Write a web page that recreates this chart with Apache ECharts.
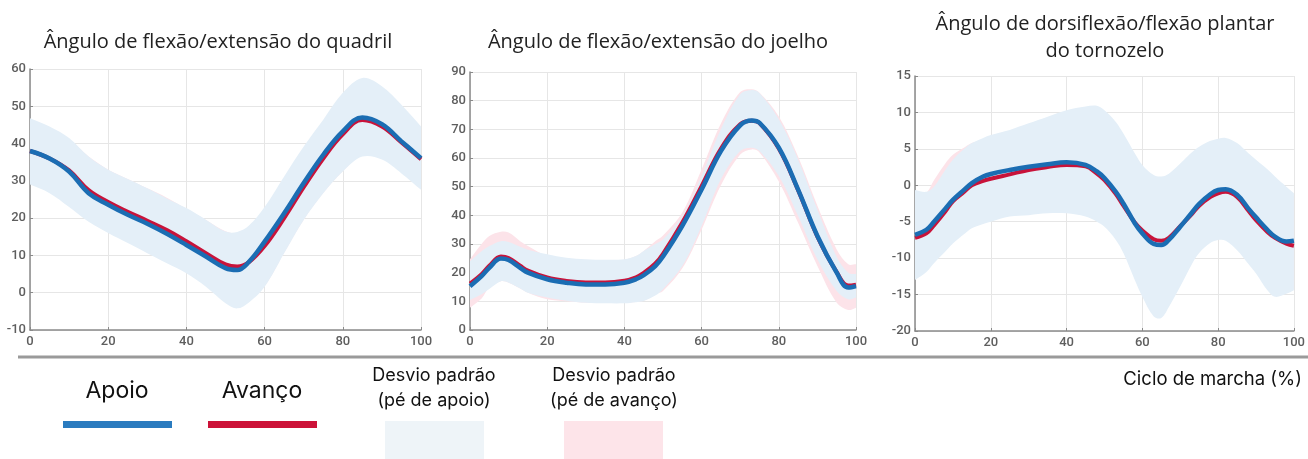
<!DOCTYPE html>
<html>
<head>
<meta charset="utf-8">
<script src="https://cdn.jsdelivr.net/npm/echarts@6/dist/echarts.min.js"></script>
<style>
  html, body { margin: 0; padding: 0; background: #fff; }
  #chart { width: 1308px; height: 459px; }
</style>
</head>
<body>
<div id="chart"></div>
<script>
// ---- dados (ciclo de marcha em %) ----

// quadril
const hipX = [0, 5, 10, 15, 20, 25, 30, 35, 40, 45, 50, 53, 56, 60, 65, 70, 75, 80, 85, 90, 95, 100];
const hipApoio = [38, 36, 32.5, 26.7, 23.6, 20.9, 18.5, 15.8, 12.8, 9.7, 6.6, 6.1, 8.3, 13.7, 21.3, 29.4, 37, 43.3, 47, 45.2, 40.6, 36.1];
const hipAvanco = [38, 36, 32.8, 27.5, 24.3, 21.7, 19.3, 16.8, 13.8, 10.6, 7.6, 7.0, 8.2, 12.5, 20, 28.3, 36, 42.5, 46.3, 44.6, 40.3, 35.8];
const hipApoioSup = [46.8, 44.6, 41.5, 36.5, 33, 30.5, 28, 25.3, 22.7, 19.6, 16.4, 16.3, 18, 23, 31.2, 39.2, 46.4, 53.6, 57.6, 55.4, 50.4, 44.6];
const hipApoioInf = [29, 26.7, 23, 19, 16, 13.3, 10.6, 7.9, 5.2, 1.6, -2.8, -4.2, -2.6, 1.6, 10.6, 19.5, 26.7, 32.5, 36.5, 35.7, 32, 27.6];
const hipAvancoSup = [46, 44, 41, 36.5, 33, 30.5, 28, 25.5, 22.5, 19.5, 16.5, 16, 17.5, 22, 30, 38, 45.5, 52.5, 56.5, 54.5, 49.5, 44];
const hipAvancoInf = [30, 28, 24.5, 20, 17, 14.3, 11.6, 9, 6, 2.5, -1.5, -2.8, -1.8, 1.8, 10.8, 19.6, 26.8, 32.6, 36.8, 36, 32.5, 28];

// joelho
const kneeX = [0, 3, 5, 8, 10, 13, 15, 20, 25, 30, 35, 40, 43, 45, 48, 50, 55, 60, 65, 70, 73, 75, 80, 85, 90, 95, 98, 100];
const kneeApoio = [15.3, 18.8, 21.7, 24.9, 24.4, 21.7, 20, 17.7, 16.5, 15.9, 15.9, 16.5, 17.7, 19.1, 22.3, 25.6, 36.3, 49, 62.4, 71.4, 73.1, 72.3, 63.6, 49, 32.8, 20, 14.8, 15.3];
const kneeAvanco = [16.2, 19.5, 22.4, 25.6, 25.1, 22.4, 20.7, 18.3, 17.1, 16.6, 16.6, 17.2, 18.4, 19.9, 23.2, 26.6, 37.5, 50.2, 63.2, 71.8, 73, 72.2, 63.3, 48.8, 32.6, 20.2, 15.5, 15.8];
const kneeApoioSup = [24, 27.5, 29.3, 31, 30.7, 29, 28, 26.4, 25.2, 24.7, 24.5, 24.7, 25.8, 27.6, 30, 31.6, 39.8, 53.7, 70, 82.2, 83.7, 82.7, 73.5, 59.5, 42, 25.5, 20, 19.5];
const kneeApoioInf = [10.5, 12.5, 14.3, 17, 16.5, 14.5, 13, 11.3, 10.2, 9.5, 9.3, 9.3, 9.7, 10.1, 12, 14.2, 22.3, 36.3, 52.6, 62.4, 63.6, 62.4, 53.7, 39.8, 24.7, 13.6, 10.7, 11.3];
const kneeAvancoSup = [24.7, 30, 32.8, 34.3, 34, 31, 29.3, 25.8, 24.5, 24, 24, 24.5, 25.8, 27.6, 31, 33, 41, 56, 72, 83, 84, 82.8, 74.5, 60.5, 43.3, 28.1, 22.9, 22.9];
const kneeAvancoInf = [7.8, 11, 14.8, 17, 16.5, 14.5, 13, 10.7, 10, 9.5, 9.5, 9.5, 9.8, 10.2, 12.5, 13.6, 21.5, 35, 50.5, 61.2, 63, 61.9, 51.8, 37.4, 22.3, 9.5, 7, 7.8];

// tornozelo
const ankleX = [0, 3, 5, 8, 10, 13, 15, 18, 20, 25, 30, 35, 40, 45, 48, 50, 53, 55, 58, 60, 63, 65, 67, 70, 73, 75, 78, 80, 82, 85, 88, 90, 93, 95, 98, 100];
const ankleApoio = [-6.8, -6.1, -5, -3.2, -2, -0.6, 0.3, 1.2, 1.55, 2.1, 2.55, 2.9, 3.15, 2.8, 1.9, 1, -0.9, -2.5, -5.2, -6.6, -8.05, -8.2, -7.5, -5.7, -3.8, -2.55, -1.2, -0.65, -0.55, -1.3, -3.2, -4.4, -6.1, -7.05, -7.7, -7.6];
const ankleAvanco = [-7.2, -6.6, -5.5, -3.6, -2.2, -0.9, 0, 0.6, 0.9, 1.5, 2.1, 2.5, 2.8, 2.6, 1.6, 0.7, -1.2, -2.8, -5.1, -6.2, -7.4, -7.6, -7.2, -5.6, -4, -2.8, -1.6, -1.1, -0.9, -1.6, -3.5, -4.8, -6.4, -7.2, -8, -8.3];
const ankleApoioSup = [-0.65, -0.9, -0.2, 2.1, 3.5, 5, 5.8, 6.5, 6.9, 7.6, 8.5, 9.4, 10.3, 10.8, 10.9, 10.3, 8.7, 7.1, 4.4, 2.8, 1.4, 1.2, 1.6, 3, 4.5, 5.3, 6.1, 6.4, 6.5, 5.8, 4.4, 3.5, 2.2, 1.2, -0.2, -1.1];
const ankleApoioInf = [-13, -11.9, -10.7, -9.1, -8, -6.7, -5.9, -5.3, -5, -4.3, -4.1, -3.85, -3.85, -4.3, -5, -5.7, -7.5, -9.3, -13, -15.3, -18, -18.2, -16.7, -13.9, -10.9, -9.3, -7.9, -7.5, -7.6, -8.9, -10.8, -12.1, -14.4, -15.3, -14.9, -14.4];
const ankleAvancoSup = [-1.5, -1, 0.7, 3, 4.2, 5.2, 5.8, 6.3, 6.6, 7.3, 8.2, 9, 9.8, 10.3, 10.4, 9.8, 8.2, 6.6, 4, 2.4, 1, 0.8, 1.2, 2.6, 4.1, 4.9, 5.7, 6, 6.1, 5.4, 4, 3.1, 1.8, 0.8, -0.6, -1.5];
const ankleAvancoInf = [-12.5, -11, -9.5, -8, -7, -6, -5.5, -5, -4.8, -4, -3.8, -3.6, -3.6, -4, -4.8, -5.5, -7.2, -9, -12.6, -15, -17.6, -17.8, -16.3, -13.5, -10.6, -9, -7.6, -7.2, -7.3, -8.6, -10.5, -11.8, -14, -15, -14.6, -14.2];

const titulos = ['Ângulo de flexão/extensão do quadril', 'Ângulo de flexão/extensão do joelho', 'Ângulo de dorsiflexão/flexão plantar\ndo tornozelo'];
const yMin = [-10, 0, -20];
const yMax = [60, 90, 15];
const yInterval = [10, 10, 5];

// cores
const AZUL = '#1b6db3';
const VERMELHO = '#c8133a';
const BANDA_AZUL = '#e4eff8';
const BANDA_ROSA = '#fce3e9';

const paineis = [
    {x: hipX, apoio: hipApoio, avanco: hipAvanco, apSup: hipApoioSup, apInf: hipApoioInf, avSup: hipAvancoSup, avInf: hipAvancoInf},
    {x: kneeX, apoio: kneeApoio, avanco: kneeAvanco, apSup: kneeApoioSup, apInf: kneeApoioInf, avSup: kneeAvancoSup, avInf: kneeAvancoInf},
    {x: ankleX, apoio: ankleApoio, avanco: ankleAvanco, apSup: ankleApoioSup, apInf: ankleApoioInf, avSup: ankleAvancoSup, avInf: ankleAvancoInf}
];

const grids = [
    {left: 30, top: 69, width: 391, height: 261},
    {left: 470, top: 72, width: 386, height: 258},
    {left: 915, top: 76, width: 382, height: 255}
];

const pares = (xs, ys) => xs.map((x, i) => [x, ys[i]]);

// faixa de desvio padrão: um polígono (superior -> inferior invertido)
function faixa(i, xs, sup, inf, cor, z) {
    const n = xs.length;
    return {
        type: 'custom', xAxisIndex: i, yAxisIndex: i, clip: true, silent: true, z: z,
        encode: {x: 0, y: [1, 2]},
        data: xs.map((x, k) => [x, inf[k], sup[k]]),
        renderItem: function (params, api) {
            if (params.dataIndex !== 0) return null;
            const topo = [], base = [];
            for (let k = 0; k < n; k++) {
                topo.push(api.coord([xs[k], sup[k]]));
                base.push(api.coord([xs[k], inf[k]]));
            }
            base.reverse();
            // repete os cantos para manter as bordas verticais retas
            const pts = [topo[0]].concat(topo, [topo[n - 1]], [base[0]], base, [base[n - 1]]);
            return {
                type: 'polygon',
                shape: {points: pts, smooth: 0.35},
                style: {fill: cor}
            };
        }
    };
}

const series = [];
paineis.forEach((p, i) => {
    series.push(faixa(i, p.x, p.avSup, p.avInf, BANDA_ROSA, 1));
    series.push(faixa(i, p.x, p.apSup, p.apInf, BANDA_AZUL, 2));
    const base = {type: 'line', xAxisIndex: i, yAxisIndex: i, smooth: 0.4, symbol: 'none', silent: true};
    series.push(Object.assign({}, base, {data: pares(p.x, p.avanco), lineStyle: {color: VERMELHO, width: 4}, z: 3}));
    series.push(Object.assign({}, base, {data: pares(p.x, p.apoio), lineStyle: {color: AZUL, width: 4.5}, z: 4}));
});

const eixoCor = '#8a8a8a';
const rotulo = {color: '#5e5e5e', fontSize: 13, fontFamily: 'Roboto', fontWeight: 500};

const option = {
    animation: false,
    backgroundColor: '#fff',
    title: [
        {text: titulos[0], left: 213, top: 24, textAlign: 'center'},
        {text: titulos[1], left: 653, top: 24, textAlign: 'center'},
        {text: titulos[2], left: 1100, top: 6, textAlign: 'center'}
    ].map(t => Object.assign(t, {textStyle: {fontFamily: 'Open Sans', fontSize: 20, fontWeight: 'normal', color: '#222', lineHeight: 27}})),
    grid: grids,
    xAxis: grids.map((g, i) => ({
        type: 'value', gridIndex: i, min: 0, max: 100, interval: 20,
        axisLine: {show: true, onZero: false, lineStyle: {color: eixoCor, width: 1.5}},
        axisTick: {show: true, inside: true, length: 3, lineStyle: {color: eixoCor}},
        splitLine: {show: true, lineStyle: {color: '#e6e6e6'}},
        axisLabel: Object.assign({margin: 5}, rotulo)
    })),
    yAxis: grids.map((g, i) => ({
        type: 'value', gridIndex: i, min: yMin[i], max: yMax[i], interval: yInterval[i],
        axisLine: {show: true, onZero: false, lineStyle: {color: eixoCor, width: 1.5}},
        axisTick: {show: true, inside: true, length: 3, lineStyle: {color: eixoCor}},
        splitLine: {show: true, lineStyle: {color: '#e6e6e6'}},
        axisLabel: Object.assign({margin: 4}, rotulo)
    })),
    series: series,
    graphic: [
        // linha separadora
        {type: 'line', shape: {x1: 18, y1: 357, x2: 1308, y2: 357}, style: {stroke: '#9a9a9a', lineWidth: 3}},
        // legenda
        {type: 'text', x: 117, y: 391, style: {text: 'Apoio', fill: '#111', font: '23px Inter', textAlign: 'center', textVerticalAlign: 'middle'}},
        {type: 'rect', shape: {x: 63, y: 421, width: 109, height: 7}, style: {fill: '#2a7bbf'}},
        {type: 'text', x: 262, y: 391, style: {text: 'Avanço', fill: '#111', font: '23px Inter', textAlign: 'center', textVerticalAlign: 'middle'}},
        {type: 'rect', shape: {x: 208, y: 421, width: 109, height: 7}, style: {fill: '#cc1238'}},
        {type: 'text', x: 434, y: 376, style: {text: 'Desvio padrão', fill: '#111', font: '18px Inter', textAlign: 'center', textVerticalAlign: 'middle'}},
        {type: 'text', x: 434, y: 401, style: {text: '(pé de apoio)', fill: '#111', font: '18px Inter', textAlign: 'center', textVerticalAlign: 'middle'}},
        {type: 'rect', shape: {x: 385, y: 421, width: 99, height: 38}, style: {fill: '#eef4f8'}},
        {type: 'text', x: 614, y: 376, style: {text: 'Desvio padrão', fill: '#111', font: '18px Inter', textAlign: 'center', textVerticalAlign: 'middle'}},
        {type: 'text', x: 614, y: 401, style: {text: '(pé de avanço)', fill: '#111', font: '18px Inter', textAlign: 'center', textVerticalAlign: 'middle'}},
        {type: 'rect', shape: {x: 564, y: 421, width: 99, height: 38}, style: {fill: '#fde4e9'}},
        {type: 'text', x: 1302, y: 379, style: {text: 'Ciclo de marcha (%)', fill: '#111', font: '18.5px Inter', textAlign: 'right', textVerticalAlign: 'middle'}}
    ]
};

const chart = echarts.init(document.getElementById('chart'));
chart.setOption(option);
</script>
</body>
</html>
